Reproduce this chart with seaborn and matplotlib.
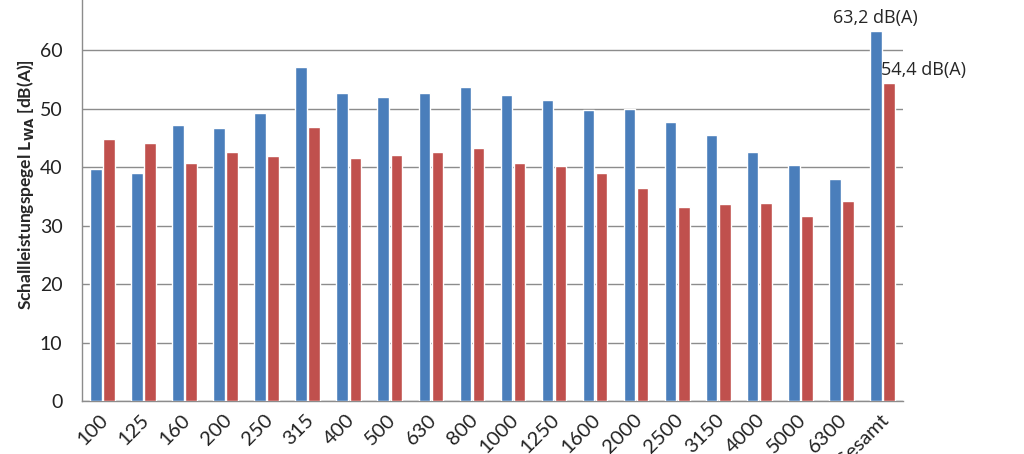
import matplotlib
matplotlib.use("Agg")
import matplotlib.pyplot as plt
import matplotlib.transforms as mtransforms
import seaborn as sns
import pandas as pd

categories = ["100", "125", "160", "200", "250", "315", "400", "500", "630", "800",
              "1000", "1250", "1600", "2000", "2500", "3150", "4000", "5000", "6300", "Gesamt"]
series_a = [39.7, 39.0, 47.2, 46.7, 49.2, 57.1, 52.6, 52.0, 52.6, 53.7,
            52.3, 51.5, 49.7, 49.9, 47.7, 45.5, 42.6, 40.3, 37.9, 63.2]
series_b = [44.8, 44.1, 40.7, 42.6, 41.9, 46.8, 41.5, 42.0, 42.6, 43.2,
            40.7, 40.2, 39.0, 36.4, 33.2, 33.7, 33.8, 31.6, 34.2, 54.4]
series_names = ["A", "B"]
yticks = [0, 10, 20, 30, 40, 50, 60]

df = pd.DataFrame({
    "cat": categories * 2,
    "val": series_a + series_b,
    "series": [series_names[0]] * len(categories) + [series_names[1]] * len(categories),
})

sns.set_style("white")
plt.rcParams['font.family'] = ['Lato', 'DejaVu Sans']

fig = plt.figure(figsize=(10.24, 4.54), dpi=100)
ax = fig.add_axes([0.080, 0.1167, 0.8018, 0.8833])

sns.barplot(data=df, x="cat", y="val", hue="series", order=categories,
            palette=["#4A7EBB", "#C0504D"], saturation=1, width=0.64, gap=0.12,
            legend=False, ax=ax, zorder=3)

ax.set_ylim(0, 68.55)
ax.set_xlim(-0.5, len(categories) - 0.5)
ax.set_yticks(yticks)
ax.yaxis.grid(True, color="#8c8c8c", linewidth=1.0, zorder=0)
ax.set_axisbelow(True)
for s in ["top", "right"]:
    ax.spines[s].set_visible(False)
for s in ["left", "bottom"]:
    ax.spines[s].set_color("#8c8c8c")
    ax.spines[s].set_linewidth(1.0)

ax.tick_params(axis="y", labelsize=14, length=0, pad=14, colors="#222222")
ax.tick_params(axis="x", labelsize=14.5, length=0, pad=6, colors="#222222")
offset = mtransforms.ScaledTranslation(-3 / 100, -2 / 100, fig.dpi_scale_trans)
for lbl in ax.get_xticklabels():
    lbl.set_rotation(45)
    lbl.set_ha("right")
    lbl.set_rotation_mode("anchor")
    lbl.set_transform(lbl.get_transform() + offset)

ax.set_xlabel("")
ax.set_ylabel("Schallleistungspegel L$_{\\mathbf{WA}}$ [dB(A)]", fontsize=12.5,
              fontweight="bold")
ax.yaxis.set_label_coords(-0.056, 0.54)

n = len(categories) - 1
ax.annotate("63,2 dB(A)", xy=(n - 0.18, series_a[-1]), xytext=(0, 3),
            textcoords="offset points", ha="center", va="bottom", fontsize=13,
            family=["Open Sans", "DejaVu Sans"])
ax.annotate("54,4 dB(A)", xy=(n + 0.18, series_b[-1]), xytext=(-6, 3),
            textcoords="offset points", ha="left", va="bottom", fontsize=13,
            family=["Open Sans", "DejaVu Sans"], annotation_clip=False)

fig.savefig("out.png", dpi=100)
